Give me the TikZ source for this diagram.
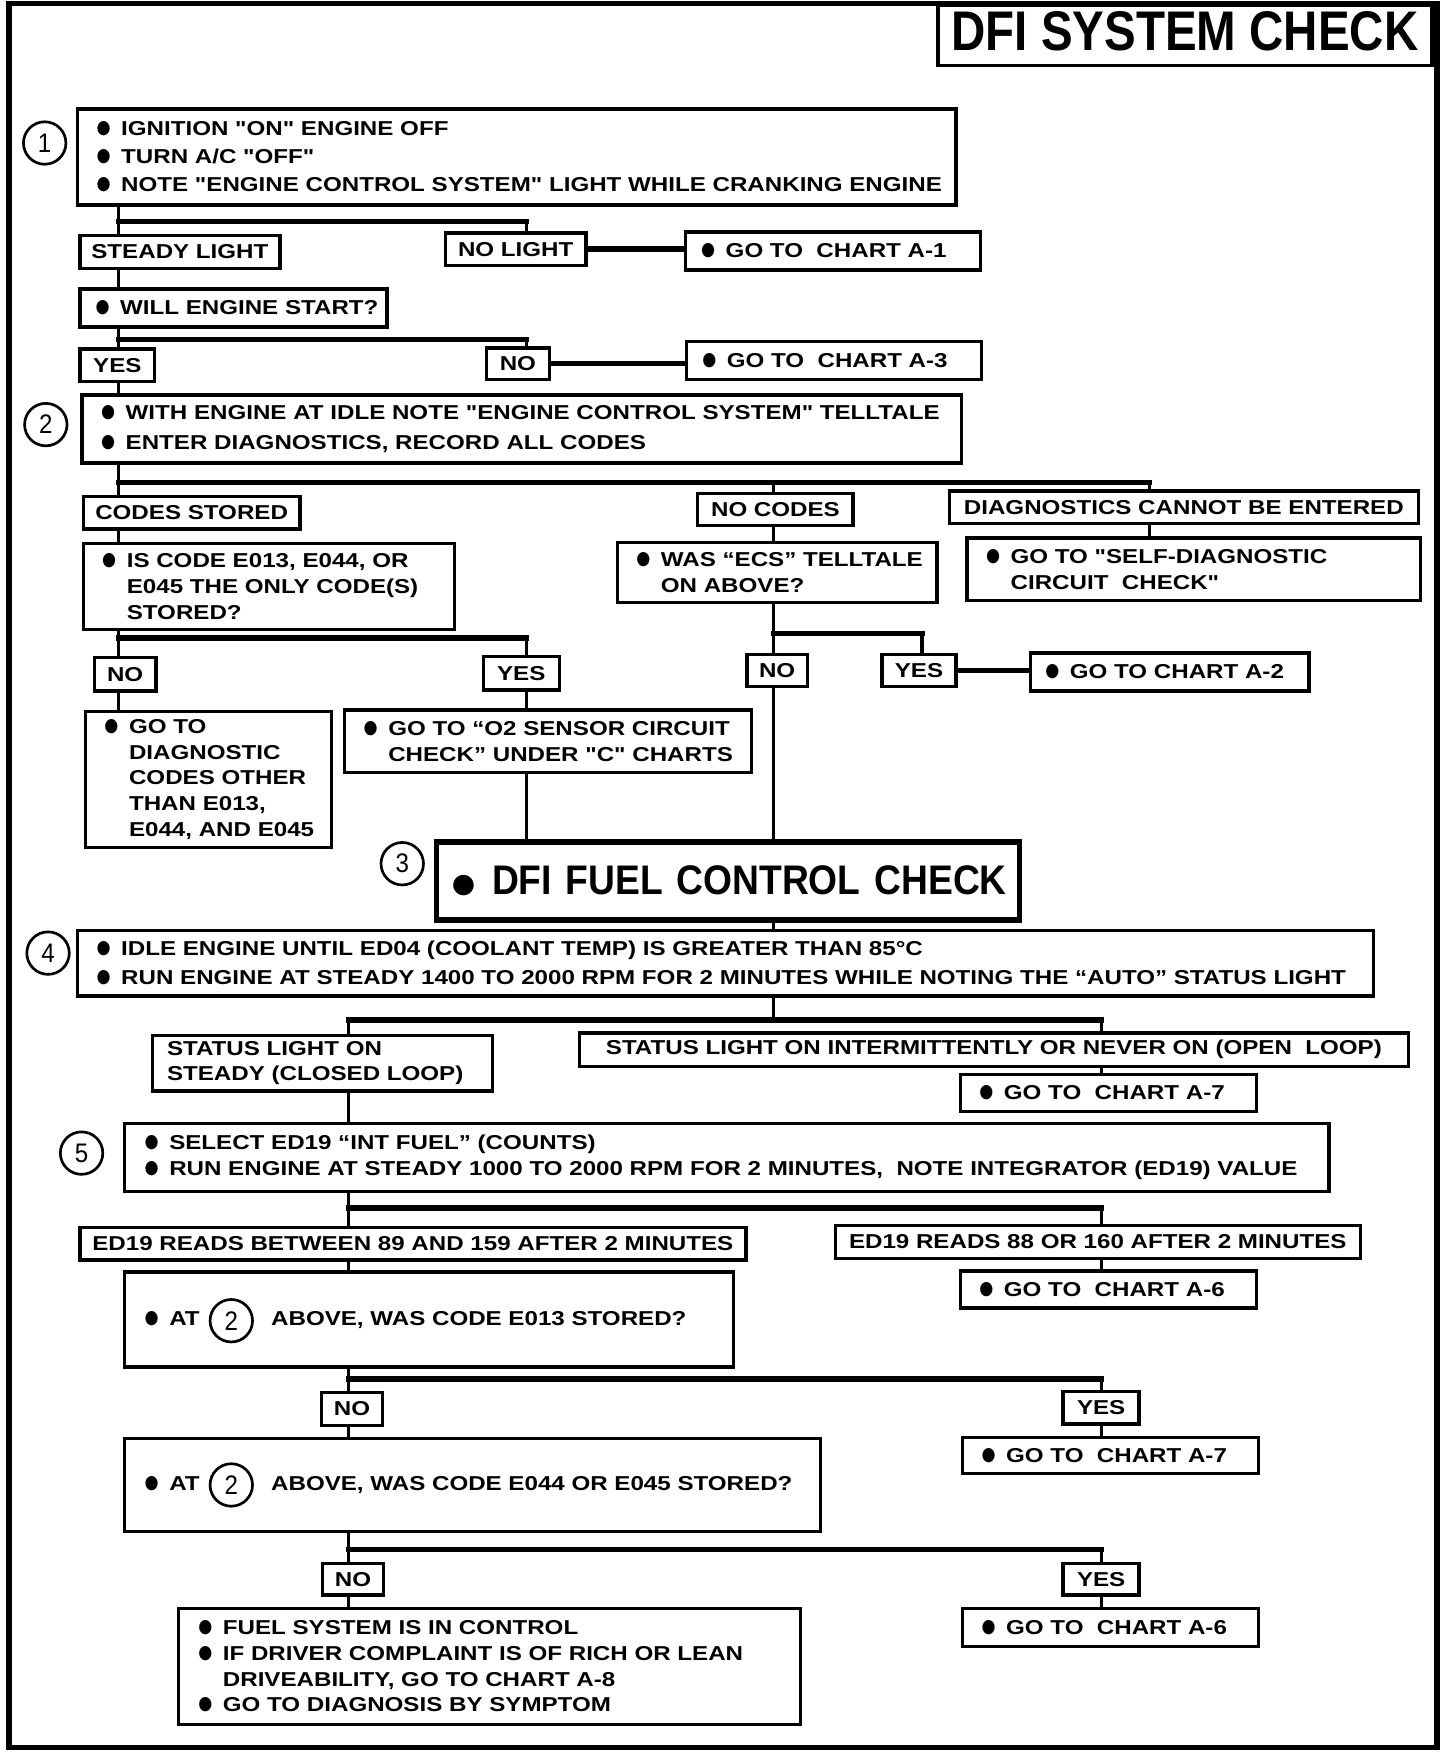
\documentclass[tikz,border=0pt]{standalone}
\usepackage{fontspec}
\usepackage{tikz}
\newfontfamily\chartfam[FakeStretch=1.2]{Liberation Sans}
\newfontfamily\headfam[FakeStretch=0.85]{Liberation Sans}
\newfontfamily\fuelfam[FakeStretch=0.9]{Liberation Sans}
\newfontfamily\symfam{DejaVu Sans}
\newcommand{\chartfont}{\chartfam\bfseries\fontsize{9}{11.5}\selectfont}
\newcommand{\blt}{\makebox[11pt][l]{\raisebox{0.9pt}{\symfam\fontsize{8}{8}\selectfont\scalebox{0.9}[1.05]{●}}}}
\newcommand{\bitem}[1]{\mbox{\blt#1}}
\newcommand{\contline}[1]{\mbox{\hspace*{11pt}#1}}

\begin{document}
\begin{tikzpicture}[x=0.5pt,y=-0.5pt,font=\chartfont,
  box/.style={draw,line width=1.5pt,anchor=north west,align=left,inner xsep=8.5pt,inner ysep=0pt},
  tag/.style={draw,line width=1.5pt,anchor=north west,align=center,inner sep=0pt},
  num/.style={draw,circle,line width=1.2pt,minimum size=19pt,inner sep=0pt,font=\fuelfam\fontsize{12}{12}\selectfont},
  wire/.style={line width=1.5pt},
  rail/.style={line width=2.4pt,line cap=rect}]
\useasboundingbox (0,0) rectangle (1303,1568);
\draw[line width=2.4pt] (8,3) rectangle (1286,1564);
\node[draw,line width=1.5pt,anchor=north west,inner sep=0pt,minimum width=221pt,minimum height=27pt,text depth=4pt,
  font=\headfam\bfseries\fontsize{25}{25}\selectfont] (head) at (838,3) {DFI SYSTEM CHECK};

% step markers
\node[num] (c1) at (40,128) {1};
\node[num] (c2) at (41,380) {2};
\node[num] (c3) at (360,773) {3};
\node[num] (c4) at (43,853) {4};
\node[num] (c5) at (73,1032) {5};

% step 1
\node[box,minimum width=393pt,minimum height=43pt,text width=376pt] (boxA) at (68,96)
  {\bitem{IGNITION "ON" ENGINE OFF}\\[1pt] \bitem{TURN A/C "OFF"}\\[1pt] \bitem{NOTE "ENGINE CONTROL SYSTEM" LIGHT WHILE CRANKING ENGINE}};
\node[tag,minimum width=89.5pt,minimum height=15pt] (steady) at (70,209) {STEADY LIGHT};
\node[tag,minimum width=63pt,minimum height=14.5pt] (nolight) at (397,207) {NO LIGHT};
\node[box,inner xsep=7pt,minimum width=132pt,minimum height=17pt,text width=118pt] (goA1) at (612,206) {\bitem{GO TO~ CHART A-1}};
\node[box,inner xsep=7pt,minimum width=137.5pt,minimum height=17pt,text width=123.5pt] (start) at (70,257) {\bitem{WILL ENGINE START?}};
\node[tag,minimum width=33.5pt,minimum height=14.5pt] (yes1) at (70,311) {YES};
\node[tag,minimum width=28pt,minimum height=14pt] (no1) at (434,310) {NO};
\node[box,inner xsep=7pt,minimum width=132pt,minimum height=17pt,text width=118pt] (goA3) at (613,304) {\bitem{GO TO~ CHART A-3}};

% step 2
\node[box,minimum width=393.5pt,minimum height=30.5pt,text width=376.5pt] (boxB) at (72,352)
  {\bitem{WITH ENGINE AT IDLE NOTE "ENGINE CONTROL SYSTEM" TELLTALE}\\[2pt] \bitem{ENTER DIAGNOSTICS, RECORD ALL CODES}};
\node[tag,minimum width=97pt,minimum height=14.5pt] (codes) at (73,443) {CODES STORED};
\node[tag,minimum width=69.5pt,minimum height=14.5pt] (nocodes) at (623,440) {NO CODES};
\node[tag,minimum width=210pt,minimum height=14.5pt] (diagx) at (848,438) {DIAGNOSTICS CANNOT BE ENTERED};
\node[box,minimum width=166pt,minimum height=38.5pt,text width=149pt] (iscode) at (73,485)
  {\bitem{IS CODE E013, E044, OR}\\ \contline{E045 THE ONLY CODE(S)}\\ \contline{STORED?}};
\node[box,minimum width=143pt,minimum height=27pt,text width=126pt] (ecs) at (551,484)
  {\bitem{WAS “ECS” TELLTALE}\\ \contline{ON ABOVE?}};
\node[box,minimum width=203pt,minimum height=28pt,text width=186pt] (selfdiag) at (864,480)
  {\bitem{GO TO "SELF-DIAGNOSTIC}\\ \contline{CIRCUIT~ CHECK"}};
\node[tag,minimum width=27.5pt,minimum height=15pt] (no2) at (83,587) {NO};
\node[tag,minimum width=34pt,minimum height=15pt] (yes2) at (431,586) {YES};
\node[tag,minimum width=27pt,minimum height=14.5pt] (no3) at (667,584) {NO};
\node[tag,minimum width=33pt,minimum height=14.5pt] (yes3) at (788,584) {YES};
\node[box,inner xsep=6.5pt,minimum width=124.5pt,minimum height=17pt,text width=111.5pt] (goA2) at (921,583) {\bitem{GO TO CHART A-2}};
\node[box,minimum width=110pt,minimum height=61pt,text width=93pt] (diagcodes) at (75,635)
  {\bitem{GO TO}\\ \contline{DIAGNOSTIC}\\ \contline{CODES OTHER}\\ \contline{THAN E013,}\\ \contline{E044, AND E045}};
\node[box,minimum width=182pt,minimum height=28pt,text width=165pt] (o2) at (307,634)
  {\bitem{GO TO “O2 SENSOR CIRCUIT}\\ \contline{CHECK” UNDER "C" CHARTS}};

% step 3
\node[box,line width=2.4pt,inner xsep=7pt,minimum width=261pt,minimum height=35pt,text width=247pt,
  font=\fuelfam\bfseries\fontsize{18.5}{20}\selectfont] (fuel) at (388,751)
  {\mbox{\makebox[18pt][l]{\raisebox{1pt}{\symfam\fontsize{12}{12}\selectfont ●}}DFI FUEL CONTROL CHECK}};

% step 4
\node[box,minimum width=580pt,minimum height=29.5pt,text width=563pt] (boxC) at (68,831)
  {\bitem{IDLE ENGINE UNTIL ED04 (COOLANT TEMP) IS GREATER THAN 85°C}\\[1.3pt]
   \bitem{RUN ENGINE AT STEADY 1400 TO 2000 RPM FOR 2 MINUTES WHILE NOTING THE “AUTO” STATUS LIGHT}};
\node[box,inner xsep=6.5pt,minimum width=152pt,minimum height=25pt,text width=139pt] (steadyon) at (135,925)
  {STATUS LIGHT ON\\ STEADY (CLOSED LOOP)};
\node[tag,minimum width=371pt,minimum height=15pt] (intermit) at (517,923) {STATUS LIGHT ON INTERMITTENTLY OR NEVER ON (OPEN~ LOOP)};
\node[box,minimum width=132.5pt,minimum height=16.5pt,text width=115.5pt] (goA7) at (858,960) {\bitem{GO TO~ CHART A-7}};

% step 5
\node[box,inner xsep=9pt,minimum width=539pt,minimum height=30.5pt,text width=521pt] (boxD) at (110,1004)
  {\bitem{SELECT ED19 “INT FUEL” (COUNTS)}\\ \bitem{RUN ENGINE AT STEADY 1000 TO 2000 RPM FOR 2 MINUTES,~ NOTE INTEGRATOR (ED19) VALUE}};
\node[tag,minimum width=298pt,minimum height=14.5pt] (between) at (70,1097) {ED19 READS BETWEEN 89 AND 159 AFTER 2 MINUTES};
\node[tag,minimum width=235pt,minimum height=15pt] (outside) at (746,1095) {ED19 READS 88 OR 160 AFTER 2 MINUTES};
\node[box,minimum width=132.5pt,minimum height=16.5pt,text width=115.5pt] (goA6) at (858,1136) {\bitem{GO TO~ CHART A-6}};
\node[box,inner xsep=9pt,minimum width=272.5pt,minimum height=42.5pt,text width=254.5pt] (boxE) at (110,1137)
  {\bitem{AT\hspace{32pt}ABOVE, WAS CODE E013 STORED?}};
\node[num] (e2) at (207,1182) {2};
\node[tag,minimum width=27.5pt,minimum height=14.5pt] (no4) at (286,1245) {NO};
\node[tag,minimum width=34pt,minimum height=14.5pt] (yes4) at (950,1244) {YES};
\node[box,minimum width=132.5pt,minimum height=16pt,text width=115.5pt] (goA7b) at (860,1285) {\bitem{GO TO~ CHART A-7}};
\node[box,inner xsep=9pt,minimum width=311.5pt,minimum height=41.5pt,text width=293.5pt] (boxF) at (110,1286)
  {\bitem{AT\hspace{32pt}ABOVE, WAS CODE E044 OR E045 STORED?}};
\node[num] (f2) at (207,1329) {2};
\node[tag,minimum width=27.5pt,minimum height=14pt] (no5) at (287,1398) {NO};
\node[tag,minimum width=34pt,minimum height=14pt] (yes5) at (950,1398) {YES};
\node[box,minimum width=132.5pt,minimum height=17pt,text width=115.5pt] (goA6b) at (860,1438) {\bitem{GO TO~ CHART A-6}};
\node[box,inner xsep=9pt,minimum width=278.5pt,minimum height=52pt,text width=260.5pt] (boxG) at (158,1438)
  {\bitem{FUEL SYSTEM IS IN CONTROL}\\ \bitem{IF DRIVER COMPLAINT IS OF RICH OR LEAN}\\
   \contline{DRIVEABILITY, GO TO CHART A-8}\\ \bitem{GO TO DIAGNOSIS BY SYMPTOM}};

% trunk columns and branch points
\coordinate (cL) at (106,0);
\coordinate (cM) at (471,0);
\coordinate (cN) at (692,0);
\coordinate (cY) at (825,0);
\coordinate (cD) at (1029,0);
\coordinate (cS) at (312,0);
\coordinate (cR) at (986,0);
\coordinate (j1) at (106,198);
\coordinate (j2) at (106,304);
\coordinate (j3) at (106,432);
\coordinate (j4) at (106,571);
\coordinate (j5) at (692,567);
\coordinate (j6) at (312,913);
\coordinate (j7) at (312,1081);
\coordinate (j8) at (312,1234);
\coordinate (j9) at (312,1387);

% connectors
\draw[wire] (boxA.south -| cL) -- (steady.north -| cL);
\draw[rail] (j1) -- (j1 -| cM);
\draw[wire] (j1 -| cM) -- (nolight.north -| cM);
\draw[rail] (nolight.east) -- (nolight.east -| goA1.west);
\draw[wire] (steady.south -| cL) -- (start.north -| cL);
\draw[wire] (start.south -| cL) -- (yes1.north -| cL);
\draw[rail] (j2) -- (j2 -| cM);
\draw[wire] (j2 -| cM) -- (no1.north -| cM);
\draw[rail] (no1.east) -- (no1.east -| goA3.west);
\draw[wire] (yes1.south -| cL) -- (boxB.north -| cL);
\draw[wire] (boxB.south -| cL) -- (codes.north -| cL);
\draw[rail] (j3) -- (j3 -| cD);
\draw[wire] (j3 -| cN) -- (nocodes.north -| cN);
\draw[wire] (j3 -| cD) -- (diagx.north -| cD);
\draw[wire] (codes.south -| cL) -- (iscode.north -| cL);
\draw[wire] (nocodes.south -| cN) -- (ecs.north -| cN);
\draw[wire] (diagx.south -| cD) -- (selfdiag.north -| cD);
\draw[wire] (iscode.south -| cL) -- (no2.north -| cL);
\draw[rail] (j4) -- (j4 -| cM);
\draw[wire] (j4 -| cM) -- (yes2.north -| cM);
\draw[wire] (no2.south -| cL) -- (diagcodes.north -| cL);
\draw[wire] (yes2.south -| cM) -- (o2.north -| cM);
\draw[wire] (o2.south -| cM) -- (fuel.north -| cM);
\draw[wire] (ecs.south -| cN) -- (no3.north -| cN);
\draw[rail] (j5) -- (j5 -| cY);
\draw[wire] (j5 -| cY) -- (yes3.north -| cY);
\draw[rail] (yes3.east) -- (yes3.east -| goA2.west);
\draw[wire] (no3.south -| cN) -- (fuel.north -| cN);
\draw[wire] (fuel.south -| cN) -- (boxC.north -| cN);
\draw[wire] (boxC.south -| cN) -- (j6 -| cN);
\draw[rail] (j6) -- (j6 -| cR);
\draw[wire] (j6) -- (steadyon.north -| cS);
\draw[wire] (j6 -| cR) -- (intermit.north -| cR);
\draw[wire] (intermit.south -| cR) -- (goA7.north -| cR);
\draw[wire] (steadyon.south -| cS) -- (boxD.north -| cS);
\draw[wire] (boxD.south -| cS) -- (between.north -| cS);
\draw[rail] (j7) -- (j7 -| cR);
\draw[wire] (j7 -| cR) -- (outside.north -| cR);
\draw[wire] (outside.south -| cR) -- (goA6.north -| cR);
\draw[wire] (between.south -| cS) -- (boxE.north -| cS);
\draw[wire] (boxE.south -| cS) -- (no4.north -| cS);
\draw[rail] (j8) -- (j8 -| cR);
\draw[wire] (j8 -| cR) -- (yes4.north -| cR);
\draw[wire] (yes4.south -| cR) -- (goA7b.north -| cR);
\draw[wire] (no4.south -| cS) -- (boxF.north -| cS);
\draw[wire] (boxF.south -| cS) -- (no5.north -| cS);
\draw[rail] (j9) -- (j9 -| cR);
\draw[wire] (j9 -| cR) -- (yes5.north -| cR);
\draw[wire] (yes5.south -| cR) -- (goA6b.north -| cR);
\draw[wire] (no5.south -| cS) -- (boxG.north -| cS);
\end{tikzpicture}
\end{document}
